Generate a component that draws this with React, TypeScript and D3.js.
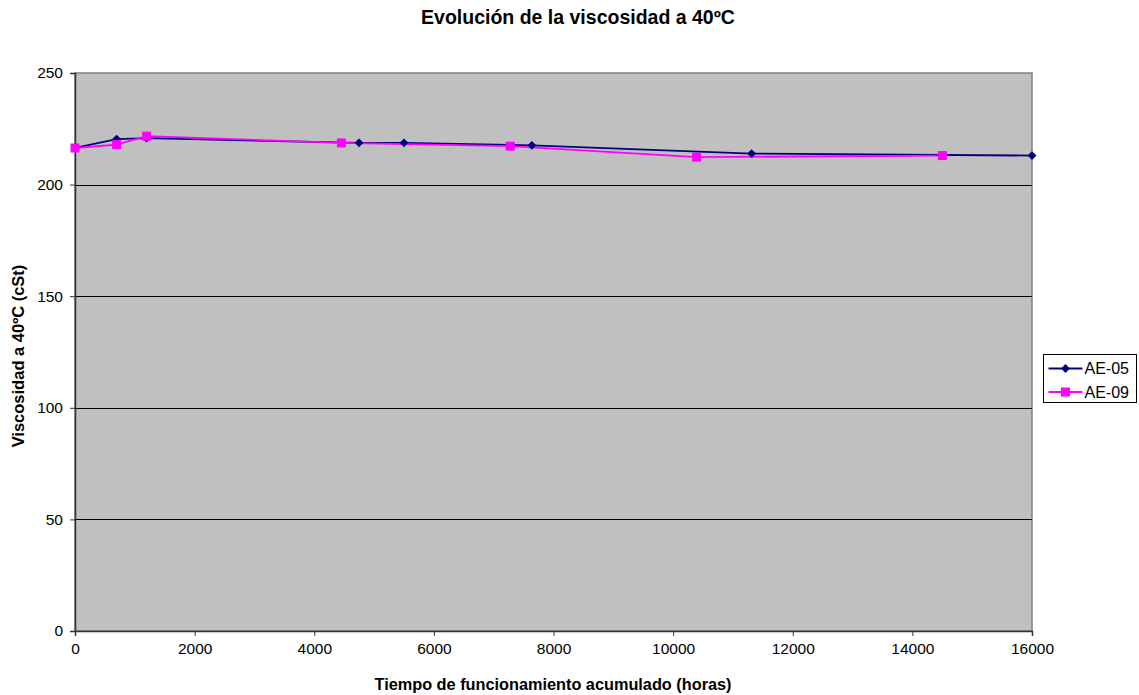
import { useEffect, useRef } from 'react';
import * as d3 from 'd3';

// data
const ae05Hours = [0, 696, 1197, 4749, 5500, 7638, 11312, 16000];
const ae05Visc = [216.5, 220.4, 220.8, 218.7, 218.7, 217.6, 213.9, 213.0];
const ae09Hours = [0, 696, 1197, 4454, 7277, 10393, 14502];
const ae09Visc = [216.4, 217.9, 221.7, 218.7, 217.2, 212.3, 213.0];
const xTicks = [0, 2000, 4000, 6000, 8000, 10000, 12000, 14000, 16000];
const yTicks = [0, 50, 100, 150, 200, 250];

const seriesNames = ['AE-05', 'AE-09'];
const seriesColors = ['#000080', '#FF00FF'];

const App = () => {
  const svgRef = useRef<SVGSVGElement>(null);

  useEffect(() => {
    const width = 1139;
    const height = 695;
    const margin = { top: 73, right: 107, bottom: 64, left: 75 };
    const font = '"Liberation Sans", Arial, sans-serif';

    const svg = d3.select(svgRef.current);
    svg.selectAll('*').remove();
    svg.attr('width', width).attr('height', height).style('display', 'block');

    const x = d3.scaleLinear().domain([0, 16000]).range([margin.left, width - margin.right]);
    const y = d3.scaleLinear().domain([0, 250]).range([height - margin.bottom, margin.top]);

    // plot background
    svg.append('rect')
      .attr('x', x(0))
      .attr('y', y(250))
      .attr('width', x(16000) - x(0))
      .attr('height', y(0) - y(250))
      .attr('fill', '#c0c0c0')
      .attr('stroke', '#808080')
      .attr('stroke-width', 1.5);

    // gridlines
    svg.append('g')
      .selectAll('line')
      .data(yTicks.filter(d => d > 0 && d < 250))
      .enter()
      .append('line')
      .attr('x1', x(0))
      .attr('x2', x(16000))
      .attr('y1', d => Math.round(y(d)) + 0.5)
      .attr('y2', d => Math.round(y(d)) + 0.5)
      .attr('stroke', '#000')
      .attr('stroke-width', 1);

    // axes
    const xAxis = d3.axisBottom(x).tickValues(xTicks).tickFormat(d3.format('d')).tickSize(5).tickPadding(7);
    const yAxis = d3.axisLeft(y).tickValues(yTicks).tickSize(5).tickPadding(7);

    const gx = svg.append('g')
      .attr('transform', `translate(0,${y(0)})`)
      .call(xAxis);
    const gy = svg.append('g')
      .attr('transform', `translate(${x(0)},0)`)
      .call(yAxis);

    [gx, gy].forEach(g => {
      g.select('.domain').attr('stroke', '#333').attr('stroke-width', 1.5);
      g.selectAll('.tick line').attr('stroke', '#333');
      g.selectAll('text')
        .style('font-family', font)
        .style('font-size', '15.5px')
        .attr('fill', '#000');
    });

    // series
    const series = [
      { hours: ae05Hours, visc: ae05Visc },
      { hours: ae09Hours, visc: ae09Visc },
    ];

    const line = d3.line<[number, number]>()
      .x(d => x(d[0]))
      .y(d => y(d[1]));

    series.forEach((s, i) => {
      const pts: [number, number][] = s.hours.map((h, j) => [h, s.visc[j]]);
      svg.append('path')
        .datum(pts)
        .attr('fill', 'none')
        .attr('stroke', seriesColors[i])
        .attr('stroke-width', 1.8)
        .attr('d', line);
    });

    const diamond = d3.symbol().type(d3.symbolDiamond2).size(50);

    series.forEach((s, i) => {
      const pts = s.hours.map((h, j) => [h, s.visc[j]]);
      if (i === 0) {
        svg.append('g')
          .selectAll('path')
          .data(pts)
          .enter()
          .append('path')
          .attr('d', diamond)
          .attr('transform', d => `translate(${x(d[0])},${y(d[1])})`)
          .attr('fill', seriesColors[i]);
      } else {
        svg.append('g')
          .selectAll('rect')
          .data(pts)
          .enter()
          .append('rect')
          .attr('x', d => x(d[0]) - 4.5)
          .attr('y', d => y(d[1]) - 4.5)
          .attr('width', 9)
          .attr('height', 9)
          .attr('fill', seriesColors[i]);
      }
    });

    // legend
    const lg = svg.append('g').attr('transform', 'translate(1043.5,354.5)');
    lg.append('rect')
      .attr('width', 93)
      .attr('height', 48)
      .attr('fill', '#fff')
      .attr('stroke', '#000')
      .attr('stroke-width', 1);

    seriesNames.forEach((name, i) => {
      const cy = 14 + i * 23.5;
      lg.append('line')
        .attr('x1', 5).attr('x2', 39)
        .attr('y1', cy).attr('y2', cy)
        .attr('stroke', seriesColors[i])
        .attr('stroke-width', 1.8);
      if (i === 0) {
        lg.append('path')
          .attr('d', diamond)
          .attr('transform', `translate(22,${cy})`)
          .attr('fill', seriesColors[i]);
      } else {
        lg.append('rect')
          .attr('x', 22 - 4.5).attr('y', cy - 4.5)
          .attr('width', 9).attr('height', 9)
          .attr('fill', seriesColors[i]);
      }
      lg.append('text')
        .attr('x', 41)
        .attr('y', cy + 5.5)
        .style('font-family', font)
        .style('font-size', '16px')
        .text(name);
    });

    // titles
    svg.append('text')
      .attr('x', 578)
      .attr('y', 24)
      .attr('text-anchor', 'middle')
      .style('font-family', font)
      .style('font-size', '19.5px')
      .style('font-weight', 'bold')
      .text('Evolución de la viscosidad a 40ºC');

    svg.append('text')
      .attr('x', 553)
      .attr('y', 690)
      .attr('text-anchor', 'middle')
      .style('font-family', font)
      .style('font-size', '16.3px')
      .style('font-weight', 'bold')
      .text('Tiempo de funcionamiento acumulado (horas)');

    svg.append('text')
      .attr('transform', `translate(23.5,356) rotate(-90)`)
      .attr('text-anchor', 'middle')
      .style('font-family', font)
      .style('font-size', '16.5px')
      .style('font-weight', 'bold')
      .text('Viscosidad a 40ºC (cSt)');
  }, []);

  return (
    <div style={{ position: 'absolute', left: 0, top: 0 }}>
      <svg ref={svgRef}></svg>
    </div>
  );
};

export default App;
